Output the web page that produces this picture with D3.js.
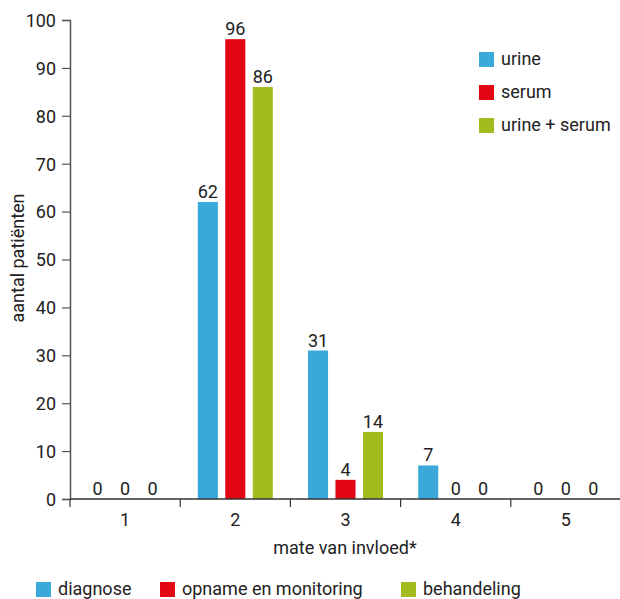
<!DOCTYPE html>
<html>
<head>
<meta charset="utf-8">
<script src="https://cdn.jsdelivr.net/npm/d3@7"></script>
<style>
html,body{margin:0;padding:0;background:#fff;}
text{font-family:Roboto,"Liberation Sans",sans-serif;fill:#222;}
</style>
</head>
<body>
<svg id="chart" width="620" height="599"></svg>
<script>
const categories = ["1","2","3","4","5"];
const seriesNames = ["urine","serum","urine + serum"];
const bottomLegend = ["diagnose","opname en monitoring","behandeling"];
const urine = [0,62,31,7,0];
const serum = [0,96,4,0,0];
const urineSerum = [0,86,14,0,0];
const yTicks = [0,10,20,30,40,50,60,70,80,90,100];
const colors = ["#3aa8d8","#e30613","#a3bb1f"];
const xTitle = "mate van invloed*";
const yTitle = "aantal patiënten";

const series = [urine, serum, urineSerum];
const svg = d3.select("#chart");
const fs = 18;

const x = d3.scaleBand().domain(categories).range([70,621]).padding(0);
const x1 = d3.scaleBand().domain(d3.range(3)).range([-37.5,37.5]).paddingInner(0.27).paddingOuter(0);
const y = d3.scaleLinear().domain([0,100]).range([499,20]);

// y axis
const yAxis = svg.append("g").attr("transform","translate(70,0)")
  .call(d3.axisLeft(y).tickValues(yTicks).tickSize(8).tickPadding(6));
yAxis.select(".domain").attr("stroke","#555").attr("stroke-width",1.5);
yAxis.selectAll(".tick line").attr("stroke","#555").attr("stroke-width",1.2);
yAxis.selectAll(".tick text").attr("font-size",fs).attr("font-family","Roboto").attr("fill","#222").attr("dy","0.35em");

// bars
categories.forEach((c,i)=>{
  series.forEach((s,j)=>{
    const v = s[i];
    const bx = x(c) + x.bandwidth()/2 + x1(j);
    const w = x1.bandwidth();
    if (v>0) {
      svg.append("rect").attr("x",bx).attr("y",y(v)).attr("width",w).attr("height",y(0)-y(v)).attr("fill",colors[j]);
    }
    svg.append("text").attr("x",bx+w/2).attr("y",y(v)-4).attr("text-anchor","middle").attr("font-size",fs).text(v);
  });
});

// x axis
const xAxis = svg.append("g").attr("transform","translate(0,499)")
  .call(d3.axisBottom(x).tickSize(0).tickPadding(14));
xAxis.select(".domain").attr("stroke","#333").attr("stroke-width",1.5).attr("d","M70,0H620");
xAxis.selectAll(".tick text").attr("font-size",fs).attr("font-family","Roboto").attr("fill","#222").attr("dy","0.71em");
// boundary ticks
const bounds = categories.map(c=>x(c));
svg.append("g").selectAll("line").data(bounds).join("line")
  .attr("x1",d=>d).attr("x2",d=>d).attr("y1",499).attr("y2",507)
  .attr("stroke","#333").attr("stroke-width",1.2);

// titles
svg.append("text").attr("x",345).attr("y",554).attr("text-anchor","middle").attr("font-size",fs).text(xTitle);
svg.append("text").attr("transform","translate(24,258) rotate(-90)").attr("text-anchor","middle").attr("font-size",fs).text(yTitle);

// top legend
const tl = svg.append("g");
seriesNames.forEach((n,j)=>{
  tl.append("rect").attr("x",479).attr("y",52+j*33).attr("width",15).attr("height",15).attr("fill",colors[j]);
  tl.append("text").attr("x",501).attr("y",65+j*33).attr("font-size",fs).text(n);
});

// bottom legend
const blx = [36,160,401];
bottomLegend.forEach((n,j)=>{
  svg.append("rect").attr("x",blx[j]).attr("y",582).attr("width",15).attr("height",15).attr("fill",colors[j]);
  svg.append("text").attr("x",blx[j]+22).attr("y",595).attr("font-size",fs).text(n);
});
</script>
</body>
</html>
